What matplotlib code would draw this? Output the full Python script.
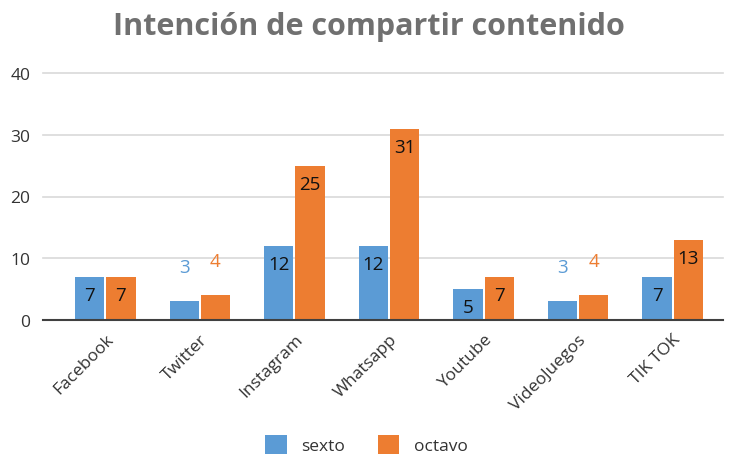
import numpy as np
import matplotlib.pyplot as plt

plt.rcParams['font.family'] = ['Open Sans', 'DejaVu Sans']

categorias = ['Facebook', 'Twitter', 'Instagram', 'Whatsapp', 'Youtube', 'VideoJuegos', 'TIK TOK']
sexto = [7, 3, 12, 12, 5, 3, 7]
octavo = [7, 4, 25, 31, 7, 4, 13]
yticks = [0, 10, 20, 30, 40]

azul = '#5B9BD5'
naranja = '#ED7D31'

fig = plt.figure(figsize=(7.3, 4.56), dpi=100)
ax = fig.add_axes([58 / 730, 135 / 456, 662 / 730, 247 / 456])

x = np.arange(len(categorias))
w = 0.31
b1 = ax.bar(x - w / 2 - 0.01, sexto, w, color=azul, label='sexto', zorder=3)
b2 = ax.bar(x + w / 2 + 0.01, octavo, w, color=naranja, label='octavo', zorder=3)

# etiquetas de valor: dentro de la barra, o encima si la barra es corta
for bars, vals, col in [(b1, sexto, azul), (b2, octavo, naranja)]:
    for r, v in zip(bars, vals):
        cx = r.get_x() + r.get_width() / 2
        if v >= 5:
            ax.annotate(str(v), (cx, v), xytext=(0, -13), textcoords='offset points',
                        ha='center', va='center', fontsize=13.5, color='#111111', zorder=4)
        else:
            ax.annotate(str(v), (cx, v), xytext=(0, 25), textcoords='offset points',
                        ha='center', va='center', fontsize=13.5, color=col, zorder=4)

ax.set_ylim(0, 40)
ax.set_xlim(-0.5, len(categorias) - 0.5)
ax.set_yticks(yticks)
ax.set_yticklabels([str(t) for t in yticks], fontsize=12.5, color='#333333')
ax.tick_params(axis='y', length=0, pad=20)
for t in yticks[1:]:
    ax.plot([-0.023, 1.005], [t, t], color='#D9D9D9', lw=1.2,
            transform=ax.get_yaxis_transform(), clip_on=False, zorder=1)
ax.plot([-0.023, 1.005], [0, 0], color='#404040', lw=1.5,
        transform=ax.get_yaxis_transform(), clip_on=False, zorder=5)

ax.set_xticks(x)
ax.set_xticklabels(categorias, rotation=45, ha='right', rotation_mode='anchor',
                   fontsize=12.5, color='#333333')
ax.tick_params(axis='x', length=0, pad=8)
for s in ax.spines.values():
    s.set_visible(False)

fig.text(0.505, 0.94, 'Intención de compartir contenido', ha='center', va='center',
         fontsize=22, fontweight='bold', color='#707070')

fig.legend(handles=[b1, b2], loc='center', bbox_to_anchor=(0.502, 0.022), ncol=2,
           frameon=False, fontsize=12.5, handlelength=1.25, handleheight=1.25,
           columnspacing=1.85, handletextpad=0.85, labelcolor='#333333')

fig.savefig('out.png', dpi=100)
